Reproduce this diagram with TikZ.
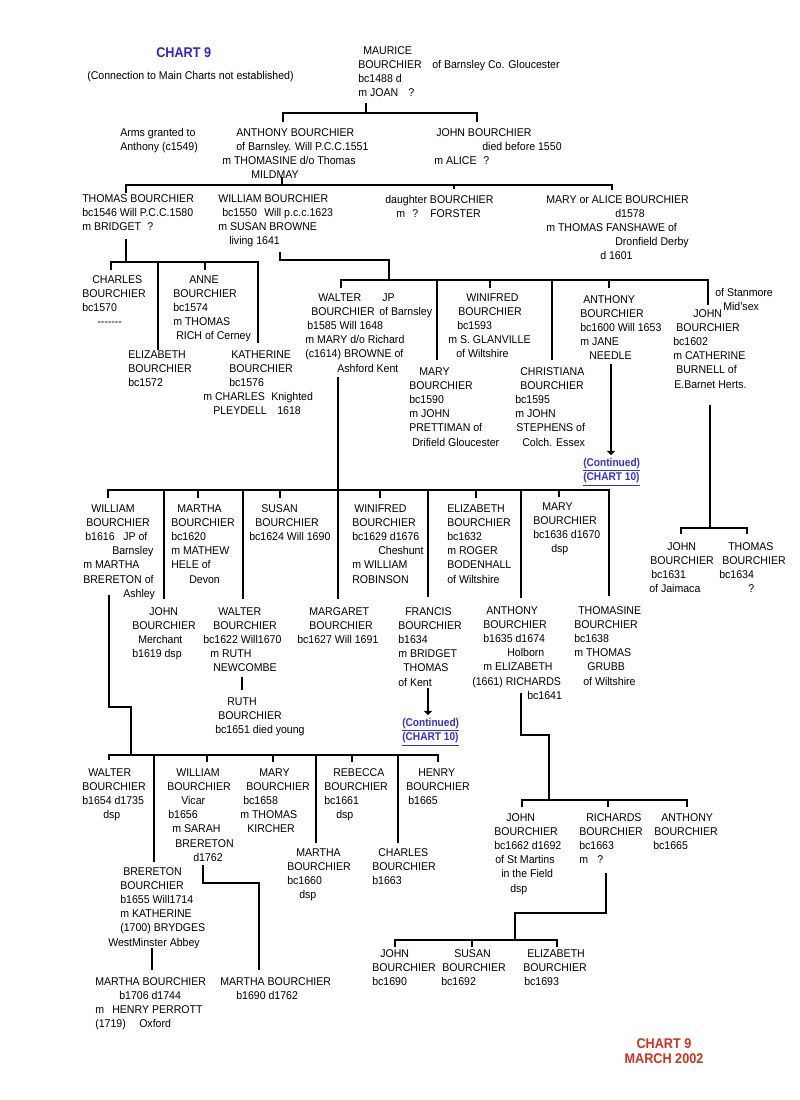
\documentclass[tikz,border=0pt]{standalone}
\usepackage{fontspec}
\setmainfont{Liberation Sans}[FakeStretch=0.94]
\newfontfamily\titlefont{Liberation Sans}[FakeStretch=0.9]
\usepackage{tikz}
\usetikzlibrary{arrows.meta}
\newlength\unitpx
\setlength\unitpx{0.025cm}
\newcommand\indpx[1]{\hspace*{#1\unitpx}}
\newcommand\padpx[2]{\makebox[#1\unitpx][l]{#2}}
\definecolor{chartblue}{RGB}{51,34,204}
\definecolor{linkblue}{RGB}{51,51,204}
\definecolor{chartred}{RGB}{204,51,34}
\tikzset{
  person/.style={anchor=north west, inner sep=0pt, align=left, font=\fontsize{8}{10.1}\selectfont},
  tree/.style={line width=0.065cm},
  cont/.style={tree, -{Triangle[length=3pt,width=6pt]}},
  contnote/.style={person, text=linkblue, font=\titlefont\fontsize{8}{10.1}\selectfont\bfseries},
  title/.style={inner sep=0pt, align=center, font=\titlefont\fontsize{10}{10.6}\selectfont\bfseries},
}
\begin{document}
\begin{tikzpicture}[x=0.025cm, y=-0.025cm]
  \fill[white] (0,0) rectangle (800,1100);
  \useasboundingbox (0,0) rectangle (800,1100);

  % Headings
  \node[title, anchor=north west, text=chartblue] (chart) at (156,47) {CHART 9};
  \node[person] (chartnote) at (87,71) {(Connection to Main Charts not established)};
  \node[title, anchor=north, text=chartred] (chartfoot) at (664,1038) {CHART 9\\MARCH 2002};

  % Generation of Maurice
  \node[person] (maurice) at (358,46) {\indpx{5}MAURICE\\\padpx{74}{BOURCHIER}of Barnsley Co. Gloucester\\bc1488 d\\\padpx{50}{m JOAN}?};

  % Children of Maurice
  \node[person] (arms) at (120,128) {Arms granted to\\Anthony (c1549)};
  \node[person] (anthony1551) at (222,128) {\indpx{14}ANTHONY BOURCHIER\\\indpx{14}of Barnsley. Will P.C.C.1551\\m THOMASINE d/o Thomas\\\indpx{29}MILDMAY};
  \node[person] (john1550) at (434,128) {\indpx{2}JOHN BOURCHIER\\\indpx{48}died before 1550\\\padpx{49}{m ALICE}?};

  % Children of Anthony
  \node[person] (thomas1546) at (82,194) {THOMAS BOURCHIER\\bc1546 Will P.C.C.1580\\\padpx{65}{m BRIDGET}?};
  \node[person] (william1550) at (218,194) {WILLIAM BOURCHIER\\\indpx{4}\padpx{42}{bc1550}Will p.c.c.1623\\m SUSAN BROWNE\\\indpx{11}living 1641};
  \node[person] (daughter) at (385,195) {daughter BOURCHIER\\\indpx{11}\padpx{16}{m}\padpx{18}{?}FORSTER};
  \node[person] (maryalice) at (546,195) {MARY or ALICE BOURCHIER\\\indpx{69}d1578\\m THOMAS FANSHAWE of\\\indpx{69}Dronfield Derby\\\indpx{54}d 1601};

  % Children of Thomas
  \node[person] (charles1570) at (82,275) {\indpx{10}CHARLES\\BOURCHIER\\bc1570\\\indpx{15}-{}-{}-{}-{}-{}-{}-};
  \node[person] (anne1574) at (173,275) {\indpx{16}ANNE\\BOURCHIER\\bc1574\\m THOMAS\\\indpx{3}RICH of Cerney};
  \node[person] (elizabeth1572) at (128,350) {ELIZABETH\\BOURCHIER\\bc1572};
  \node[person] (katherine1576) at (203,350) {\indpx{28}KATHERINE\\\indpx{26}BOURCHIER\\\indpx{26}bc1576\\\padpx{68}{m CHARLES}Knighted\\\indpx{10}\padpx{64}{PLEYDELL}1618};

  % Children of William
  \node[person] (walter1585) at (305,293) {\indpx{13}\padpx{64}{WALTER}JP\\\indpx{6}\padpx{68}{BOURCHIER}of Barnsley\\\indpx{2}b1585 Will 1648\\m MARY d/o Richard\\(c1614) BROWNE of\\\indpx{32}Ashford Kent};
  \node[person] (winifred1593) at (448,293) {\indpx{18}WINIFRED\\\indpx{10}BOURCHIER\\\indpx{9}bc1593\\m S. GLANVILLE\\\indpx{8}of Wiltshire};
  \node[person] (anthony1600) at (580,295) {\indpx{3}ANTHONY\\BOURCHIER\\bc1600 Will 1653\\m JANE\\\indpx{9}NEEDLE};
  \node[person] (stanmore) at (715,288) {of Stanmore\\\indpx{8}Mid'sex};
  \node[person] (john1602) at (673,309) {\indpx{20}JOHN\\\indpx{3}BOURCHIER\\bc1602\\m CATHERINE\\\indpx{3}BURNELL of\\\indpx{1}E.Barnet Herts.};
  \node[person] (mary1590) at (409,367) {\indpx{10}MARY\\BOURCHIER\\bc1590\\m JOHN\\PRETTIMAN of\\\indpx{3}Drifield Gloucester};
  \node[person] (christiana) at (515,367) {\indpx{5}CHRISTIANA\\\indpx{5}BOURCHIER\\bc1595\\m JOHN\\\indpx{1}STEPHENS of\\\indpx{7}Colch. Essex};
  \node[contnote] (cont1) at (583,458) {\underline{(Continued)}\\\underline{(CHART 10)}};

  % Children of Walter
  \node[person] (william1616) at (83,504) {\indpx{8}WILLIAM\\\indpx{3}BOURCHIER\\\indpx{2}\padpx{38}{b1616}JP of\\\indpx{29}Barnsley\\m MARTHA\\BRERETON of\\\indpx{40}Ashley};
  \node[person] (martha1620) at (171,504) {\indpx{6}MARTHA\\BOURCHIER\\bc1620\\m MATHEW\\HELE of\\\indpx{18}Devon};
  \node[person] (susan1624) at (249,504) {\indpx{12}SUSAN\\\indpx{6}BOURCHIER\\bc1624 Will 1690};
  \node[person] (winifred1629) at (352,504) {\indpx{2}WINIFRED\\BOURCHIER\\bc1629 d1676\\\indpx{26}Cheshunt\\m WILLIAM\\ROBINSON};
  \node[person] (elizabeth1632) at (447,504) {ELIZABETH\\BOURCHIER\\bc1632\\m ROGER\\BODENHALL\\of Wiltshire};
  \node[person] (mary1636) at (533,502) {\indpx{9}MARY\\BOURCHIER\\bc1636 d1670\\\indpx{18}dsp};
  \node[person] (john1619) at (132,607) {\indpx{17}JOHN\\BOURCHIER\\\indpx{6}Merchant\\b1619 dsp};
  \node[person] (walter1622) at (203,607) {\indpx{15}WALTER\\\indpx{10}BOURCHIER\\bc1622 Will1670\\\indpx{7}m RUTH\\\indpx{10}NEWCOMBE};
  \node[person] (margaret1627) at (297,607) {\indpx{12}MARGARET\\\indpx{12}BOURCHIER\\bc1627 Will 1691};
  \node[person] (francis1634) at (398,607) {\indpx{7}FRANCIS\\BOURCHIER\\b1634\\m BRIDGET\\\indpx{5}THOMAS\\of Kent};
  \node[person] (anthony1635) at (472,606) {\indpx{14}ANTHONY\\\indpx{11}BOURCHIER\\\indpx{11}b1635 d1674\\\indpx{35}Holborn\\\indpx{11}m ELIZABETH\\(1661) RICHARDS\\\indpx{55}bc1641};
  \node[person] (thomasine1638) at (574,606) {\indpx{4}THOMASINE\\BOURCHIER\\bc1638\\m THOMAS\\\indpx{13}GRUBB\\\indpx{9}of Wiltshire};
  \node[person] (ruth1651) at (215,697) {\indpx{12}RUTH\\\indpx{3}BOURCHIER\\bc1651 died young};
  \node[contnote] (cont2) at (402,718) {\underline{(Continued)}\\\underline{(CHART 10)}};

  % Children of John (bc1602)
  \node[person] (john1631) at (649,542) {\indpx{18}JOHN\\\indpx{1}BOURCHIER\\\indpx{2}bc1631\\of Jaimaca};
  \node[person] (thomas1634) at (719,542) {\indpx{9}THOMAS\\\indpx{3}BOURCHIER\\bc1634\\\indpx{29}?};

  % Children of William (b1616)
  \node[person] (walter1654) at (82,768) {\indpx{6}WALTER\\BOURCHIER\\b1654 d1735\\\indpx{21}dsp};
  \node[person] (william1656) at (167,768) {\indpx{9}WILLIAM\\BOURCHIER\\\indpx{14}Vicar\\\indpx{1}b1656\\\indpx{5}m SARAH\\\indpx{8}BRERETON\\\indpx{26}d1762};
  \node[person] (mary1658) at (240,768) {\indpx{19}MARY\\\indpx{6}BOURCHIER\\\indpx{3}bc1658\\m THOMAS\\\indpx{7}KIRCHER};
  \node[person] (rebecca1661) at (324,768) {\indpx{9}REBECCA\\BOURCHIER\\bc1661\\\indpx{12}dsp};
  \node[person] (henry1665) at (406,768) {\indpx{12}HENRY\\BOURCHIER\\\indpx{2}b1665};
  \node[person] (martha1660) at (287,848) {\indpx{9}MARTHA\\BOURCHIER\\bc1660\\\indpx{12}dsp};
  \node[person] (charles1663) at (372,848) {\indpx{6}CHARLES\\BOURCHIER\\b1663};
  \node[person] (brereton1655) at (108,867) {\indpx{15}BRERETON\\\indpx{12}BOURCHIER\\\indpx{12}b1655 Will1714\\\indpx{12}m KATHERINE\\\indpx{12}(1700) BRYDGES\\WestMinster Abbey};
  \node[person] (martha1706) at (95,977) {MARTHA BOURCHIER\\\indpx{24}b1706 d1744\\\padpx{17}{m}HENRY PERROTT\\\padpx{44}{(1719)}Oxford};
  \node[person] (martha1690) at (220,977) {MARTHA BOURCHIER\\\indpx{16}b1690 d1762};

  % Children of Anthony (b1635)
  \node[person] (john1662) at (494,813) {\indpx{12}JOHN\\BOURCHIER\\bc1662 d1692\\\indpx{1}of St Martins\\\indpx{7}in the Field\\\indpx{16}dsp};
  \node[person] (richards1663) at (579,813) {\indpx{7}RICHARDS\\BOURCHIER\\bc1663\\\padpx{18}{m}?};
  \node[person] (anthony1665) at (653,813) {\indpx{8}ANTHONY\\\indpx{1}BOURCHIER\\bc1665};

  % Children of Richards
  \node[person] (john1690) at (372,949) {\indpx{8}JOHN\\BOURCHIER\\bc1690};
  \node[person] (susan1692) at (441,949) {\indpx{13}SUSAN\\\indpx{1}BOURCHIER\\bc1692};
  \node[person] (elizabeth1693) at (523,949) {\indpx{4}ELIZABETH\\BOURCHIER\\\indpx{1}bc1693};

  % Drawing family of Maurice
  \coordinate (maurice-s) at (366,103);
  \coordinate (maurice-bus) at (366,113);
  \coordinate (anthony1551-n) at (283,122);
  \coordinate (john1550-n) at (477,122);
  \draw[tree] (maurice-s) -- (maurice-bus);
  \draw[tree] (anthony1551-n) |- (maurice-bus) -| (john1550-n);

  % Drawing family of Anthony
  \coordinate (anthony1551-s) at (282,177);
  \coordinate (anthony1551-bus) at (282,185);
  \coordinate (thomas1546-n) at (126,193);
  \coordinate (daughter-n) at (454,189);
  \coordinate (maryalice-n) at (612,190);
  \draw[tree] (anthony1551-s) -- (anthony1551-bus);
  \draw[tree] (thomas1546-n) |- (anthony1551-bus) -| (maryalice-n);
  \draw[tree] (daughter-n |- anthony1551-bus) -- (daughter-n);

  % Drawing family of Thomas
  \coordinate (thomas1546-s) at (126,239);
  \coordinate (thomas1546-bus) at (126,262);
  \coordinate (charles1570-n) at (111,270);
  \coordinate (elizabeth1572-n) at (158,350);
  \coordinate (anne1574-n) at (205,270);
  \coordinate (katherine1576-n) at (258,343);
  \draw[tree] (thomas1546-s) -- (thomas1546-bus);
  \draw[tree] (charles1570-n) |- (thomas1546-bus) -| (katherine1576-n);
  \draw[tree] (elizabeth1572-n |- thomas1546-bus) -- (elizabeth1572-n);
  \draw[tree] (anne1574-n |- thomas1546-bus) -- (anne1574-n);

  % Drawing family of William
  \coordinate (william1550-s) at (280,252);
  \coordinate (william1550-turn) at (389,260);
  \coordinate (william1550-bus) at (389,280);
  \coordinate (walter1585-n) at (341,288);
  \coordinate (mary1590-n) at (437,360);
  \coordinate (winifred1593-n) at (490,288);
  \coordinate (christiana-n) at (552,360);
  \coordinate (anthony1600-n) at (609,288);
  \coordinate (john1602-n) at (708,305);
  \draw[tree] (william1550-s) |- (william1550-turn) -- (william1550-bus);
  \draw[tree] (walter1585-n) |- (william1550-bus) -| (john1602-n);
  \draw[tree] (mary1590-n |- william1550-bus) -- (mary1590-n);
  \draw[tree] (winifred1593-n |- william1550-bus) -- (winifred1593-n);
  \draw[tree] (christiana-n |- william1550-bus) -- (christiana-n);
  \draw[tree] (anthony1600-n |- william1550-bus) -- (anthony1600-n);

  % Drawing continuation of Anthony
  \coordinate (anthony1600-s) at (611,364);
  \coordinate (cont1-n) at (611,455);
  \draw[cont] (anthony1600-s) -- (cont1-n);

  % Drawing family of John (bc1602)
  \coordinate (john1602-s) at (710,405);
  \coordinate (john1602-bus) at (710,528);
  \coordinate (john1631-n) at (681,534);
  \coordinate (thomas1634-n) at (747,534);
  \draw[tree] (john1602-s) -- (john1602-bus);
  \draw[tree] (john1631-n) |- (john1602-bus) -| (thomas1634-n);

  % Drawing family of Walter
  \coordinate (walter1585-s) at (338,377);
  \coordinate (walter1585-bus) at (338,490);
  \coordinate (william1616-n) at (108,498);
  \coordinate (john1619-n) at (164,599);
  \coordinate (martha1620-n) at (198,498);
  \coordinate (walter1622-n) at (243,599);
  \coordinate (susan1624-n) at (280,498);
  \coordinate (margaret1627-n) at (338,599);
  \coordinate (winifred1629-n) at (380,498);
  \coordinate (francis1634-n) at (428,597);
  \coordinate (elizabeth1632-n) at (476,498);
  \coordinate (anthony1635-n) at (521,598);
  \coordinate (mary1636-n) at (559,497);
  \coordinate (thomasine1638-n) at (609,596);
  \draw[tree] (walter1585-s) -- (margaret1627-n);
  \draw[tree] (william1616-n) |- (walter1585-bus) -| (thomasine1638-n);
  \draw[tree] (john1619-n |- walter1585-bus) -- (john1619-n);
  \draw[tree] (martha1620-n |- walter1585-bus) -- (martha1620-n);
  \draw[tree] (walter1622-n |- walter1585-bus) -- (walter1622-n);
  \draw[tree] (susan1624-n |- walter1585-bus) -- (susan1624-n);
  \draw[tree] (winifred1629-n |- walter1585-bus) -- (winifred1629-n);
  \draw[tree] (francis1634-n |- walter1585-bus) -- (francis1634-n);
  \draw[tree] (elizabeth1632-n |- walter1585-bus) -- (elizabeth1632-n);
  \draw[tree] (anthony1635-n |- walter1585-bus) -- (anthony1635-n);
  \draw[tree] (mary1636-n |- walter1585-bus) -- (mary1636-n);

  % Drawing family of Walter (bc1622)
  \coordinate (walter1622-s) at (242,677);
  \coordinate (ruth1651-n) at (242,690);
  \draw[tree] (walter1622-s) -- (ruth1651-n);

  % Drawing continuation of Francis
  \coordinate (francis1634-s) at (428,688);
  \coordinate (cont2-n) at (428,715);
  \draw[cont] (francis1634-s) -- (cont2-n);

  % Drawing family of William (b1616)
  \coordinate (william1616-s) at (109,595);
  \coordinate (william1616-turn) at (131,707);
  \coordinate (william1616-bus) at (131,755);
  \coordinate (walter1654-n) at (109,760);
  \coordinate (brereton1655-n) at (154,862);
  \coordinate (william1656-n) at (207,762);
  \coordinate (mary1658-n) at (273,762);
  \coordinate (martha1660-n) at (316,843);
  \coordinate (rebecca1661-n) at (352,762);
  \coordinate (charles1663-n) at (398,843);
  \coordinate (henry1665-n) at (438,762);
  \draw[tree] (william1616-s) |- (william1616-turn) -- (william1616-bus);
  \draw[tree] (walter1654-n) |- (william1616-bus) -| (henry1665-n);
  \draw[tree] (brereton1655-n |- william1616-bus) -- (brereton1655-n);
  \draw[tree] (william1656-n |- william1616-bus) -- (william1656-n);
  \draw[tree] (mary1658-n |- william1616-bus) -- (mary1658-n);
  \draw[tree] (martha1660-n |- william1616-bus) -- (martha1660-n);
  \draw[tree] (rebecca1661-n |- william1616-bus) -- (rebecca1661-n);
  \draw[tree] (charles1663-n |- william1616-bus) -- (charles1663-n);

  % Drawing family of William (b1656)
  \coordinate (william1656-s) at (203,865);
  \coordinate (william1656-turn) at (259,883);
  \coordinate (martha1690-n) at (259,970);
  \draw[tree] (william1656-s) |- (william1656-turn) -- (martha1690-n);

  % Drawing family of Brereton
  \coordinate (brereton1655-s) at (152,948);
  \coordinate (martha1706-n) at (152,970);
  \draw[tree] (brereton1655-s) -- (martha1706-n);

  % Drawing family of Anthony (b1635)
  \coordinate (anthony1635-s) at (521,693);
  \coordinate (anthony1635-turn) at (549,735);
  \coordinate (anthony1635-bus) at (549,800);
  \coordinate (john1662-n) at (522,807);
  \coordinate (richards1663-n) at (608,807);
  \coordinate (anthony1665-n) at (687,807);
  \draw[tree] (anthony1635-s) |- (anthony1635-turn) -- (anthony1635-bus);
  \draw[tree] (john1662-n) |- (anthony1635-bus) -| (anthony1665-n);
  \draw[tree] (richards1663-n |- anthony1635-bus) -- (richards1663-n);

  % Drawing family of Richards
  \coordinate (richards1663-s) at (606,873);
  \coordinate (richards1663-turn) at (515,913);
  \coordinate (richards1663-bus) at (515,940);
  \coordinate (john1690-n) at (395,947);
  \coordinate (susan1692-n) at (472,947);
  \coordinate (elizabeth1693-n) at (557,947);
  \draw[tree] (richards1663-s) |- (richards1663-turn) -- (richards1663-bus);
  \draw[tree] (john1690-n) |- (richards1663-bus) -| (elizabeth1693-n);
  \draw[tree] (susan1692-n |- richards1663-bus) -- (susan1692-n);
\end{tikzpicture}
\end{document}
